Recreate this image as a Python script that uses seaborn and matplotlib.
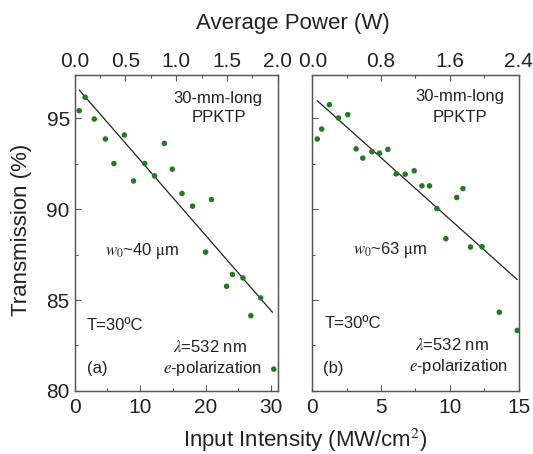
import matplotlib
matplotlib.use('Agg')
import matplotlib.pyplot as plt
import numpy as np
import pandas as pd
import seaborn as sns
from matplotlib.ticker import MultipleLocator

# ---- panel (a) data ----
a_intensity = [0.7, 1.6, 3.0, 4.7, 6.0, 7.6, 9.0, 10.7, 12.2, 13.7, 14.9, 16.4, 18.0, 20.0, 20.9,
               23.2, 24.1, 25.7, 26.9, 28.4, 30.4]
a_trans = [95.43, 96.17, 94.97, 93.87, 92.52, 94.09, 91.56, 92.52, 91.84, 93.63, 92.21, 90.87, 90.17,
           87.64, 90.54, 85.76, 86.41, 86.22, 84.14, 85.12, 81.2]
a_fit_x = [0.7, 30.2]
a_fit_y = [96.57, 84.33]

# ---- panel (b) data ----
b_intensity = [0.36, 0.68, 1.24, 1.9, 2.58, 3.18, 3.67, 4.33, 4.88, 5.49, 6.1, 6.75, 7.41, 7.97,
               8.52, 9.06, 9.71, 10.5, 10.95, 11.5, 12.34, 13.6, 14.9]
b_trans = [93.87, 94.42, 95.76, 95.03, 95.21, 93.33, 92.82, 93.17, 93.09, 93.30, 91.95, 91.93, 92.12,
           91.29, 91.29, 90.04, 88.38, 90.65, 91.14, 87.92, 87.94, 84.33, 83.33]
b_fit_x = [0.36, 14.9]
b_fit_y = [95.98, 86.13]

y_ticks = [80, 85, 90, 95]
a_x_ticks = [0, 10, 20, 30]
b_x_ticks = [0, 5, 10, 15]
a_top_ticks = [0.0, 0.5, 1.0, 1.5, 2.0]
b_top_ticks = [0.0, 0.8, 1.6, 2.4]

sns.set_theme(style='ticks')
plt.rcParams['font.family'] = ['Liberation Sans', 'DejaVu Sans']
plt.rcParams['mathtext.fontset'] = 'stix'

GREEN = '#237a23'
SPINE = '#555555'

fig = plt.figure(figsize=(5.33, 4.54), dpi=100)
ax1 = fig.add_axes([0.140, 0.139, 0.381, 0.696])
ax2 = fig.add_axes([0.586, 0.139, 0.387, 0.696])

dfa = pd.DataFrame({'I': a_intensity, 'T': a_trans})
dfb = pd.DataFrame({'I': b_intensity, 'T': b_trans})
fa = pd.DataFrame({'I': a_fit_x, 'T': a_fit_y})
fb = pd.DataFrame({'I': b_fit_x, 'T': b_fit_y})

for ax, df, fit, xmax, xticks, xminor, top_max, top_ticks, top_minor in [
        (ax1, dfa, fa, 31, a_x_ticks, 5, 2.0, a_top_ticks, 0.25),
        (ax2, dfb, fb, 15, b_x_ticks, 2.5, 2.4, b_top_ticks, 0.4)]:
    sns.lineplot(data=fit, x='I', y='T', ax=ax, color='#222222', linewidth=0.9)
    sns.scatterplot(data=df, x='I', y='T', ax=ax, color=GREEN, s=16, edgecolor='none', zorder=3)
    ax.set_xlim(0, xmax)
    ax.set_ylim(80, 97.4)
    ax.set_xticks(xticks)
    ax.xaxis.set_minor_locator(MultipleLocator(xminor))
    ax.set_yticks(y_ticks)
    ax.yaxis.set_minor_locator(MultipleLocator(2.5))
    ax.set_xlabel('')
    ax.set_ylabel('')
    ax.tick_params(which='both', direction='in', colors=SPINE, labelcolor='#222222',
                   labelsize=15, top=False, right=False)
    ax.tick_params(which='major', length=4, width=0.8)
    ax.tick_params(which='minor', length=2.5, width=0.8)
    ax.tick_params(axis='x', pad=5)
    for sp in ax.spines.values():
        sp.set_visible(True)
        sp.set_color(SPINE)
        sp.set_linewidth(0.9)
    top = ax.twiny()
    top.set_xlim(0, top_max)
    top.set_xticks(top_ticks)
    top.set_xticklabels([f'{t:.1f}' for t in top_ticks])
    top.xaxis.set_minor_locator(MultipleLocator(top_minor))
    top.tick_params(which='both', direction='in', colors=SPINE, labelcolor='#222222',
                    labelsize=15, pad=3)
    top.tick_params(which='major', length=4, width=0.8)
    top.tick_params(which='minor', length=2.5, width=0.8)
    for sp in top.spines.values():
        sp.set_color(SPINE)
        sp.set_linewidth(0.9)

ax2.set_yticklabels([])

fs = 12
def ftext(x, y, s, **kw):
    fig.text(x / 533, 1 - y / 454, s, fontsize=fs, color='#222222', **kw)

# panel (a) annotations
ftext(218, 98, '30-mm-long', ha='center', va='center')
ftext(219, 118, 'PPKTP', ha='center', va='center')
ftext(105, 251, r'$w_0$~40 $\mathrm{\mu}$m', ha='left', va='center')
ftext(87, 325, 'T=30ºC', ha='left', va='center')
ftext(210, 347, r'$\lambda$=532 nm', ha='center', va='center')
ftext(212, 368, r'$e$-polarization', ha='center', va='center')
ftext(87, 368, '(a)', ha='left', va='center')

# panel (b) annotations
ftext(460, 97, '30-mm-long', ha='center', va='center')
ftext(460, 117, 'PPKTP', ha='center', va='center')
ftext(353, 250, r'$w_0$~63 $\mathrm{\mu}$m', ha='left', va='center')
ftext(325, 323, 'T=30ºC', ha='left', va='center')
ftext(452, 345, r'$\lambda$=532 nm', ha='center', va='center')
ftext(458, 367, r'$e$-polarization', ha='center', va='center')
ftext(323, 368, '(b)', ha='left', va='center')

fig.text(305 / 533, 1 - 440 / 454, 'Input Intensity (MW/cm$^2$)', fontsize=16,
         ha='center', va='center', color='#222222')
fig.text(293 / 533, 1 - 23 / 454, 'Average Power (W)', fontsize=16,
         ha='center', va='center', color='#222222')
fig.text(22 / 533, 1 - 230 / 454, 'Transmission (%)', fontsize=16, rotation=90,
         ha='center', va='center', color='#222222')

fig.savefig('out.png', dpi=100)
